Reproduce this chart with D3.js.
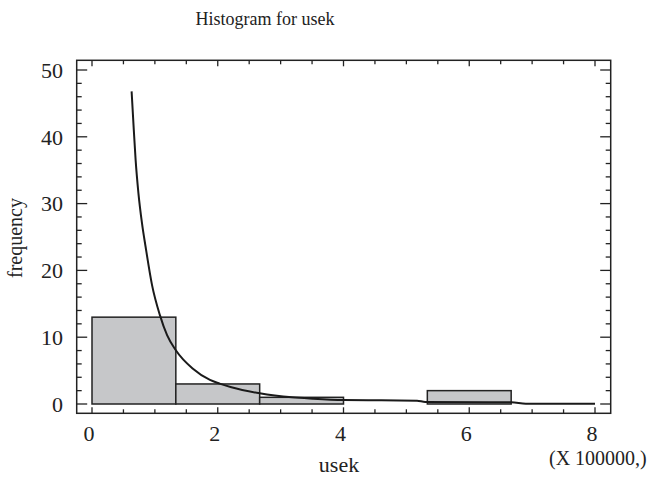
<!DOCTYPE html>
<html>
<head>
<meta charset="utf-8">
<script src="https://cdn.jsdelivr.net/npm/d3@7"></script>
<style>
  body { margin: 0; background: #fff; }
  svg text { font-family: "Liberation Serif", "Times New Roman", serif; fill: #222; }
</style>
</head>
<body>
<svg id="chart" width="664" height="481"></svg>
<script>
// bins (in units of 100000)
var binStart = [0, 1.3333, 2.6667, 4, 5.3333, 6.6667],
    binEnd   = [1.3333, 2.6667, 4, 5.3333, 6.6667, 8],
    counts   = [13, 3, 1, 0, 2, 0];

// fitted density curve
var curveX = [0.63, 0.665, 0.694, 0.739, 0.796, 0.853, 0.955, 1.08, 1.194, 1.336, 1.6, 1.876, 2.03, 2.217, 2.667, 3.18, 3.51, 4.0, 4.6, 5.17, 5.3, 6.31, 6.67, 6.9, 8.0],
    curveY = [46.8, 41, 36.5, 31.5, 27, 23.5, 17.8, 13.3, 10.3, 8.0, 5.3, 3.6, 3.05, 2.5, 1.6, 1.0, 0.8, 0.6, 0.55, 0.5, 0.3, 0.25, 0.25, 0.05, 0.05];

var xTicks = [0, 2, 4, 6, 8],
    yTicks = [0, 10, 20, 30, 40, 50];

var frame = {left: 76.7, right: 610.7, top: 60.3, bottom: 413.3};

var svg = d3.select("#chart");

var x = d3.scaleLinear().domain([0, 8]).range([92, 595]);
var y = d3.scaleLinear().domain([0, 50]).range([404, 70]);

// title
svg.append("text")
    .attr("x", 265).attr("y", 25)
    .attr("text-anchor", "middle")
    .style("font-size", "18px")
    .text("Histogram for usek");

// bars
svg.selectAll("rect.bar")
    .data(counts)
  .enter().append("rect")
    .attr("class", "bar")
    .attr("x", (d, i) => x(binStart[i]))
    .attr("y", d => y(d))
    .attr("width", (d, i) => x(binEnd[i]) - x(binStart[i]))
    .attr("height", d => y(0) - y(d))
    .style("fill", "#c6c7c9")
    .style("stroke", "#222")
    .style("stroke-width", 1.5);

// curve
var line = d3.line()
    .x(d => x(d[0]))
    .y(d => y(d[1]))
    .curve(d3.curveMonotoneX);

svg.append("path")
    .datum(curveX.map((v, i) => [v, curveY[i]]))
    .attr("d", line)
    .style("fill", "none")
    .style("stroke", "#1a1a1a")
    .style("stroke-width", 2);

// frame
svg.append("rect")
    .attr("x", frame.left).attr("y", frame.top)
    .attr("width", frame.right - frame.left)
    .attr("height", frame.bottom - frame.top)
    .style("fill", "none")
    .style("stroke", "#222")
    .style("stroke-width", 1.5);

// ticks, drawn inward from all four sides
var xMinor = d3.range(0, 8.01, 0.5),
    yMinor = d3.range(0, 50.01, 2);

var ticks = svg.append("g").style("stroke", "#222").style("stroke-width", 1.3);

xMinor.forEach(function(v) {
  var len = (v % 2 === 0) ? 6 : 4;
  ticks.append("line").attr("x1", x(v)).attr("x2", x(v))
      .attr("y1", frame.bottom).attr("y2", frame.bottom - len);
  ticks.append("line").attr("x1", x(v)).attr("x2", x(v))
      .attr("y1", frame.top).attr("y2", frame.top + len);
});

yMinor.forEach(function(v) {
  var len = (v % 10 === 0) ? 10.5 : 5;
  ticks.append("line").attr("y1", y(v)).attr("y2", y(v))
      .attr("x1", frame.left).attr("x2", frame.left + len);
  ticks.append("line").attr("y1", y(v)).attr("y2", y(v))
      .attr("x1", frame.right).attr("x2", frame.right - len);
});

// tick labels
svg.selectAll("text.xt")
    .data(xTicks)
  .enter().append("text")
    .attr("class", "xt")
    .attr("x", d => x(d) - 3)
    .attr("y", 441)
    .attr("text-anchor", "middle")
    .style("font-size", "22px")
    .text(d => d);

svg.selectAll("text.yt")
    .data(yTicks)
  .enter().append("text")
    .attr("class", "yt")
    .attr("x", 63)
    .attr("y", d => y(d))
    .attr("dy", "0.35em")
    .attr("text-anchor", "end")
    .style("font-size", "22px")
    .text(d => d);

// axis titles
svg.append("text")
    .attr("x", 339).attr("y", 472)
    .attr("text-anchor", "middle")
    .style("font-size", "22px")
    .text("usek");

svg.append("text")
    .attr("x", 549).attr("y", 465)
    .style("font-size", "20px")
    .text("(X 100000,)");

svg.append("text")
    .attr("transform", "translate(22,238) rotate(-90)")
    .attr("text-anchor", "middle")
    .style("font-size", "20px")
    .text("frequency");
</script>
</body>
</html>
